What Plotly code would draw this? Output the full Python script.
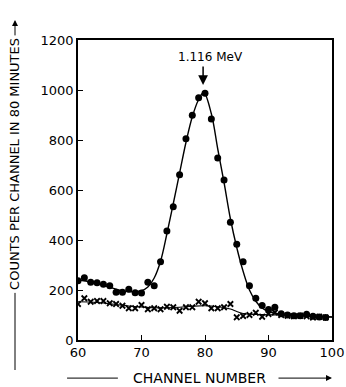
import plotly.graph_objects as go

channels = list(range(60, 100))
counts_dots = [237, 249, 231, 229, 223, 217, 191, 191, 203, 189,
               188, 231, 217, 313, 436, 533, 661, 805, 899, 969,
               987, 884, 728, 640, 471, 383, 313, 217, 167, 138,
               122, 131, 105, 100, 97, 97, 103, 95, 92, 90]
counts_cross = [144, 167, 153, 156, 156, 147, 144, 137, 127, 127,
                140, 123, 127, 123, 133, 131, 117, 131, 131, 153,
                147, 127, 127, 131, 144, 91, 96, 100, 109, 93,
                104, 110, 100, 97, 95, 97, 95, 90, 93, 90]

fit_ch = [60, 61, 62, 63, 64, 65, 66, 67, 68, 69, 70, 71, 72, 73, 74, 75, 76, 77, 78, 79,
          79.8, 81, 82, 83, 84, 85, 86, 87, 88, 89, 90, 91, 92, 94, 96, 98, 100]
fit_dots = [240, 237, 232, 226, 219, 211, 203, 197, 194, 193, 197, 212, 248, 315, 425, 545, 668, 790, 893, 962,
            990, 905, 765, 630, 485, 370, 275, 200, 155, 128, 114, 107, 103, 99, 96, 94, 92]
fit_cross_ch = [60, 62, 64, 66, 68, 70, 72, 74, 76, 78, 80, 82, 84, 85, 86, 88, 90, 92, 94, 96, 98, 100]
fit_cross = [153, 152, 148, 142, 136, 132, 129, 129, 131, 135, 137, 133, 124, 114, 106, 102, 101, 100, 98, 96, 94, 92]

x_ticks = [60, 70, 80, 90, 100]
x_labels = ["60", "70", "80", "90", "100"]
y_ticks = [0, 200, 400, 600, 800, 1000, 1200]
y_labels = ["0", "200", "400", "600", "800", "1000", "1200"]

FONT = "DejaVu Sans"

fig = go.Figure()
fig.add_trace(go.Scatter(x=fit_ch, y=fit_dots, mode="lines", line=dict(color="black", width=1.4, shape="spline"),
                         hoverinfo="skip"))
fig.add_trace(go.Scatter(x=fit_cross_ch, y=fit_cross, mode="lines", line=dict(color="black", width=1.2, shape="spline"),
                         hoverinfo="skip"))
fig.add_trace(go.Scatter(x=channels, y=counts_dots, mode="markers",
                         marker=dict(symbol="circle", size=7, color="black")))
fig.add_trace(go.Scatter(x=channels, y=counts_cross, mode="markers",
                         marker=dict(symbol="x-thin", size=5.5, line=dict(color="black", width=1.8), color="black")))

# peak annotation
fig.add_annotation(x=80.9, y=1132, text="1.116 MeV", showarrow=False,
                   xanchor="center", yanchor="middle",
                   font=dict(family=FONT, size=12, color="black"))
fig.add_annotation(x=79.7, y=1020, ax=0, ay=-20, text="", showarrow=True,
                   arrowhead=2, arrowsize=1.3, arrowwidth=1.5, arrowcolor="black",
                   xref="x", yref="y")

# x axis title with arrow
fig.add_annotation(x=0.48, y=-0.125, xref="paper", yref="paper", text="CHANNEL NUMBER",
                   xanchor="center", yanchor="middle",
                   showarrow=False, font=dict(family=FONT, size=14, color="black"))
fig.add_shape(type="line", xref="paper", yref="paper", x0=-0.043, x1=0.157, y0=-0.127, y1=-0.127,
              line=dict(color="black", width=1))
fig.add_annotation(x=1.0, y=-0.127, xref="paper", yref="paper", ax=-55, ay=0, text="",
                   showarrow=True, arrowhead=2, arrowsize=1.2, arrowwidth=1, arrowcolor="black")

# y axis title with arrow
fig.add_annotation(x=-0.248, y=0.587, xref="paper", yref="paper", text="COUNTS PER CHANNEL IN 80 MINUTES",
                   xanchor="center", yanchor="middle",
                   textangle=-90, showarrow=False, font=dict(family=FONT, size=13, color="black"))
fig.add_shape(type="line", xref="paper", yref="paper", x0=-0.248, x1=-0.248, y0=-0.1, y1=0.157,
              line=dict(color="black", width=1))
fig.add_annotation(x=-0.248, y=1.067, xref="paper", yref="paper", ax=0, ay=17, text="",
                   showarrow=True, arrowhead=2, arrowsize=1.2, arrowwidth=1, arrowcolor="black")

axis_common = dict(showgrid=False, zeroline=False, showline=True, linecolor="black", linewidth=1.5,
                   mirror=True, ticks="inside", ticklen=5, tickwidth=1.2, tickcolor="black",
                   automargin=False,
                   tickfont=dict(family=FONT, size=13, color="black"))
fig.update_xaxes(range=[60, 100], tickvals=x_ticks, ticktext=x_labels, **axis_common)
fig.update_yaxes(range=[0, 1200], tickvals=y_ticks, ticktext=y_labels, **axis_common)

fig.update_layout(width=346, height=387, margin=dict(l=78, r=14, t=40, b=47, autoexpand=False),
                  plot_bgcolor="white", paper_bgcolor="white", showlegend=False)

fig.write_html("out.html", config={"displayModeBar": False},
               post_script="document.body.style.margin='0';document.body.style.overflow='hidden';")
